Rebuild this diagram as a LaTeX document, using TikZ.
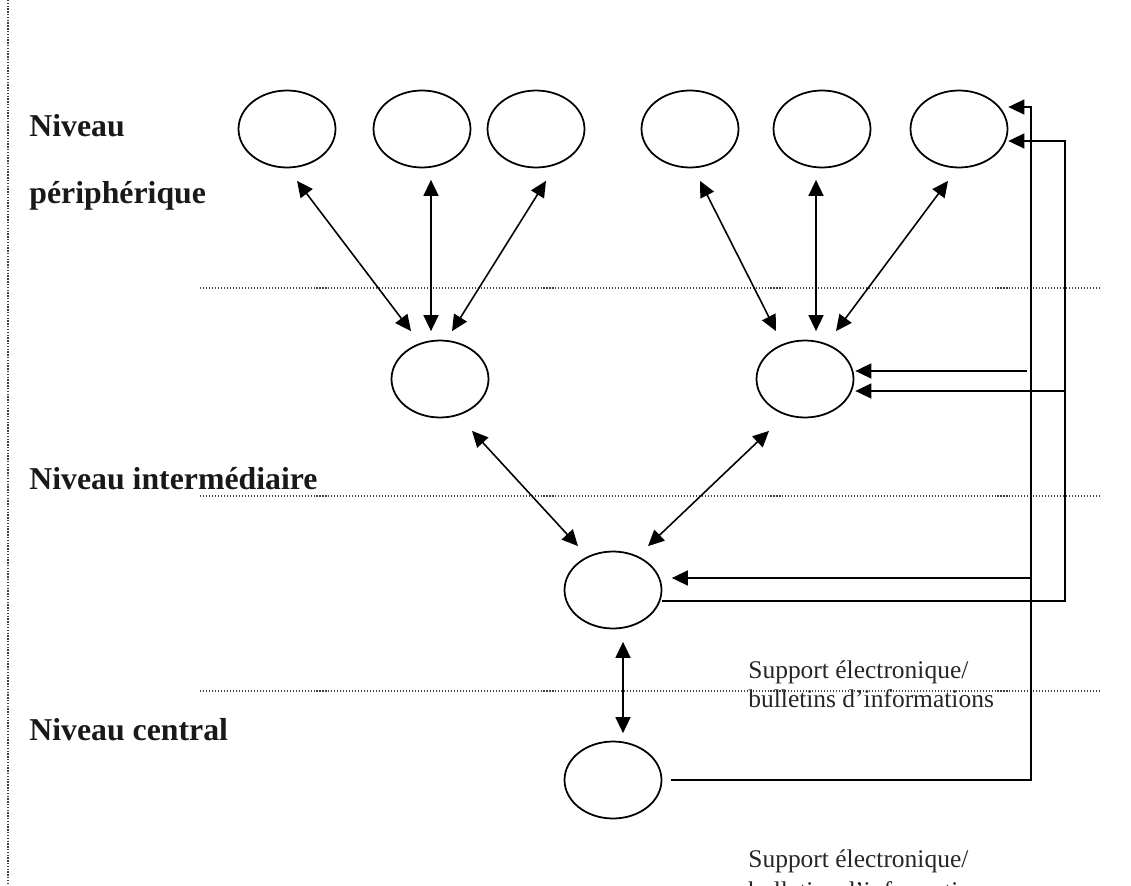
\documentclass[tikz,border=0pt]{standalone}
\usepackage{fontspec}
\setmainfont{Liberation Serif}
\usetikzlibrary{shapes.geometric,arrows.meta}

\begin{document}
\begin{tikzpicture}[x=0.02cm,y=-0.02cm,
    bulle/.style={draw,ellipse,line width=1pt,minimum width=1.94cm,minimum height=1.54cm,inner sep=0pt},
    lien/.style={{Triangle[length=0.32cm,width=0.3cm]}-{Triangle[length=0.32cm,width=0.3cm]},line width=0.9pt},
    retour/.style={-{Triangle[length=0.32cm,width=0.3cm]},line width=0.9pt},
    limite/.style={line width=0.6pt,dash pattern=on 0.6pt off 1.1pt,black!75},
    niveau/.style={anchor=base west,inner sep=0pt,text=black!90,font=\fontsize{18.1}{20}\selectfont\bfseries},
    support/.style={anchor=base west,inner sep=0pt,text=black!85,font=\fontsize{14.5}{17}\selectfont}]
            \useasboundingbox (0,0) rectangle (1131,885);
            \clip (0,0) rectangle (1131,885);
            \draw[limite,line width=0.9pt,dash pattern=on 0.8pt off 0.8pt] (8,0) -- (8,885);
            \draw[limite] (200,288) -- (1102,288);
            \draw[limite] (200,496) -- (1102,496);
            \draw[limite] (200,691) -- (1102,691);
            \node[niveau] (n1) at (29,137) {Niveau};
            \node[niveau] (n2) at (29,203) {périphérique};
            \node[niveau] (n3) at (29,489) {Niveau intermédiaire};
            \node[niveau] (n4) at (29,740) {Niveau central};
            \node[bulle] (p1) at (287,129) {};
            \node[bulle] (p2) at (422,129) {};
            \node[bulle] (p3) at (536,129) {};
            \node[bulle] (p4) at (690,129) {};
            \node[bulle] (p5) at (822,129) {};
            \node[bulle] (p6) at (959,129) {};
            \node[bulle] (i1) at (440,379) {};
            \node[bulle] (i2) at (805,379) {};
            \node[bulle] (r) at (613,590) {};
            \node[bulle] (c) at (613,780) {};
            \draw[lien] ([shift={(10,12.5)}]p1.south) -- ([shift={(-29,-8.5)}]i1.north);
            \draw[lien] ([shift={(9,11.5)}]p2.south) -- ([shift={(-9,-8.5)}]i1.north);
            \draw[lien] ([shift={(10,12.5)}]p3.south) -- ([shift={(12,-8.5)}]i1.north);
            \draw[lien] ([shift={(10,12.5)}]p4.south) -- ([shift={(-29,-8.5)}]i2.north);
            \draw[lien] ([shift={(-6,11.5)}]p5.south) -- ([shift={(11,-8.5)}]i2.north);
            \draw[lien] ([shift={(-11,12.5)}]p6.south) -- ([shift={(31,-8.5)}]i2.north);
            \draw[lien] ([shift={(32,12.5)}]i1.south) -- ([shift={(-35,-4.5)}]r.north);
            \draw[lien] ([shift={(-36,12.5)}]i2.south) -- ([shift={(35,-4.5)}]r.north);
            \draw[lien] ([shift={(10,12.5)}]r.south) -- ([shift={(10,-7.5)}]c.north);
            \coordinate (k1) at (1031,107);
            \coordinate (k2) at (1065,141);
            \coordinate (d1) at (1027,371);
            \coordinate (d2) at (1065,391);
            \coordinate (d3) at (1031,578);
            \draw[retour] ([shift={(9,0)}]c.east) -| (k1) -- ([shift={(0,-22)}]p6.east);
            \draw[retour] ([shift={(0,11)}]r.east) -| (k2) -- ([shift={(0,12)}]p6.east);
            \draw[retour] (d1) -- ([shift={(1,-8)}]i2.east);
            \draw[retour] (d2) -- ([shift={(1,12)}]i2.east);
            \draw[retour] (d3) -- ([shift={(9.5,-12)}]r.east);
            \node[support] (s1) at (748,678) {Support électronique/};
            \node[support] (s2) at (748,707) {bulletins d’informations};
            \node[support] (s3) at (748,867) {Support électronique/};
            \node[support] (s4) at (748,899) {bulletins d’informations};
        \end{tikzpicture}
\end{document}
